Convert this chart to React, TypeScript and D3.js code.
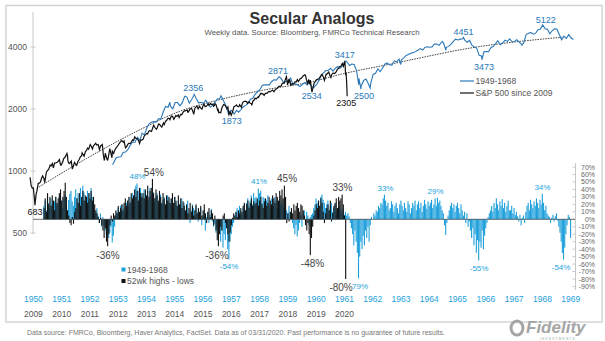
import React from "react";
import * as d3 from "d3";

// ---------------- data ----------------
const analogYears = ["1950","1951","1952","1953","1954","1955","1956","1957","1958","1959","1960","1961","1962","1963","1964","1965","1966","1967","1968","1969"];
const recentYears = ["2009","2010","2011","2012","2013","2014","2015","2016","2017","2018","2019","2020"];
const priceTicks = [500, 1000, 2000, 4000];
const pctTicks = [70, 60, 50, 40, 30, 20, 10, 0, -10, -20, -30, -40, -50, -60, -70, -80, -90];
const lineLegend = ["1949-1968", "S&P 500 since 2009"];
const barLegend = ["1949-1968", "52wk highs - lows"];

// S&P 500 since 2009 (weekly/monthly closes)
const spxSince2009: [string, number][] = [
["2009-01-02",931],["2009-01-16",850],["2009-01-30",826],["2009-02-13",827],["2009-02-27",735],["2009-03-06",683],["2009-03-20",768],["2009-03-31",798],["2009-04-17",870],["2009-04-30",873],["2009-05-15",882],["2009-05-29",919],["2009-06-12",946],["2009-06-30",919],["2009-07-10",879],["2009-07-31",987],["2009-08-14",1005],["2009-08-31",1021],["2009-09-18",1068],["2009-09-30",1057],["2009-10-16",1087],["2009-10-30",1036],["2009-11-13",1093],["2009-11-30",1096],["2009-12-18",1102],["2009-12-31",1115],
["2010-01-15",1136],["2010-01-29",1074],["2010-02-05",1066],["2010-02-26",1104],["2010-03-12",1150],["2010-03-31",1169],["2010-04-23",1217],["2010-04-30",1187],["2010-05-07",1111],["2010-05-21",1087],["2010-05-28",1089],["2010-06-18",1117],["2010-06-30",1031],["2010-07-02",1022],["2010-07-16",1065],["2010-07-30",1102],["2010-08-13",1080],["2010-08-27",1065],["2010-09-10",1110],["2010-09-30",1141],["2010-10-15",1176],["2010-10-29",1183],["2010-11-05",1225],["2010-11-30",1181],["2010-12-17",1244],["2010-12-31",1258],
["2011-01-14",1293],["2011-01-28",1276],["2011-02-18",1343],["2011-02-28",1327],["2011-03-18",1279],["2011-03-31",1326],["2011-04-29",1364],["2011-05-13",1338],["2011-05-31",1345],["2011-06-17",1272],["2011-06-30",1321],["2011-07-22",1345],["2011-07-29",1292],["2011-08-05",1199],["2011-08-19",1124],["2011-08-31",1219],["2011-09-23",1136],["2011-09-30",1131],["2011-10-07",1155],["2011-10-28",1285],["2011-11-25",1159],["2011-11-30",1247],["2011-12-16",1219],["2011-12-30",1258],
["2012-01-13",1289],["2012-01-31",1312],["2012-02-29",1366],["2012-03-30",1408],["2012-04-20",1378],["2012-04-30",1398],["2012-05-18",1295],["2012-05-31",1310],["2012-06-15",1343],["2012-06-29",1362],["2012-07-20",1363],["2012-07-31",1379],["2012-08-17",1418],["2012-08-31",1407],["2012-09-14",1466],["2012-09-28",1441],["2012-10-19",1433],["2012-10-31",1412],["2012-11-16",1359],["2012-11-30",1416],["2012-12-14",1413],["2012-12-31",1426],
["2013-01-18",1485],["2013-01-31",1498],["2013-02-15",1519],["2013-02-28",1515],["2013-03-15",1561],["2013-03-28",1569],["2013-04-19",1555],["2013-04-30",1598],["2013-05-17",1667],["2013-05-31",1631],["2013-06-21",1593],["2013-06-28",1606],["2013-07-19",1692],["2013-07-31",1686],["2013-08-16",1655],["2013-08-30",1633],["2013-09-20",1710],["2013-09-30",1682],["2013-10-18",1745],["2013-10-31",1757],["2013-11-15",1798],["2013-11-29",1806],["2013-12-13",1775],["2013-12-31",1848],
["2014-01-17",1839],["2014-01-31",1783],["2014-02-07",1797],["2014-02-28",1859],["2014-03-14",1841],["2014-03-31",1872],["2014-04-11",1816],["2014-04-30",1884],["2014-05-16",1878],["2014-05-30",1924],["2014-06-20",1963],["2014-06-30",1960],["2014-07-25",1978],["2014-07-31",1931],["2014-08-08",1931],["2014-08-29",2003],["2014-09-19",2010],["2014-09-30",1972],["2014-10-17",1886],["2014-10-31",2018],["2014-11-28",2068],["2014-12-12",2002],["2014-12-31",2059],
["2015-01-16",2019],["2015-01-30",1995],["2015-02-20",2110],["2015-02-27",2105],["2015-03-13",2053],["2015-03-31",2068],["2015-04-24",2117],["2015-04-30",2086],["2015-05-22",2126],["2015-05-29",2107],["2015-06-19",2110],["2015-06-30",2063],["2015-07-10",2077],["2015-07-17",2127],["2015-07-31",2104],["2015-08-21",1971],["2015-08-28",1989],["2015-09-04",1921],["2015-09-25",1932],["2015-09-30",1920],["2015-10-16",2033],["2015-10-30",2079],["2015-11-06",2100],["2015-11-30",2080],["2015-12-18",2006],["2015-12-31",2044],
["2016-01-15",1880],["2016-01-29",1940],["2016-02-12",1865],["2016-02-29",1932],["2016-03-18",2050],["2016-03-31",2060],["2016-04-22",2092],["2016-04-29",2065],["2016-05-20",2052],["2016-05-31",2097],["2016-06-24",2037],["2016-06-30",2099],["2016-07-15",2162],["2016-07-29",2174],["2016-08-12",2184],["2016-08-31",2171],["2016-09-09",2128],["2016-09-30",2168],["2016-10-14",2133],["2016-10-31",2126],["2016-11-04",2085],["2016-11-18",2182],["2016-11-30",2199],["2016-12-16",2258],["2016-12-30",2239],
["2017-01-27",2295],["2017-01-31",2279],["2017-02-24",2367],["2017-02-28",2364],["2017-03-03",2383],["2017-03-31",2363],["2017-04-13",2329],["2017-04-28",2384],["2017-05-19",2382],["2017-05-31",2412],["2017-06-16",2433],["2017-06-30",2423],["2017-07-28",2472],["2017-07-31",2470],["2017-08-18",2426],["2017-08-31",2472],["2017-09-15",2500],["2017-09-29",2519],["2017-10-20",2575],["2017-10-31",2575],["2017-11-17",2579],["2017-11-30",2648],["2017-12-15",2676],["2017-12-29",2674],
["2018-01-12",2786],["2018-01-26",2873],["2018-02-09",2620],["2018-02-23",2747],["2018-02-28",2714],["2018-03-09",2786],["2018-03-23",2588],["2018-03-29",2641],["2018-04-13",2656],["2018-04-30",2648],["2018-05-18",2713],["2018-05-31",2705],["2018-06-15",2780],["2018-06-29",2718],["2018-07-20",2802],["2018-07-31",2816],["2018-08-17",2850],["2018-08-31",2902],["2018-09-21",2930],["2018-09-28",2914],["2018-10-12",2767],["2018-10-26",2659],["2018-11-09",2781],["2018-11-23",2633],["2018-11-30",2760],["2018-12-07",2633],["2018-12-21",2417],["2018-12-31",2507],
["2019-01-18",2671],["2019-01-31",2704],["2019-02-15",2776],["2019-02-28",2784],["2019-03-22",2801],["2019-03-29",2834],["2019-04-26",2940],["2019-04-30",2946],["2019-05-17",2860],["2019-05-31",2752],["2019-06-21",2950],["2019-06-28",2942],["2019-07-26",3026],["2019-07-31",2980],["2019-08-09",2919],["2019-08-23",2847],["2019-08-30",2926],["2019-09-20",2992],["2019-09-30",2977],["2019-10-11",2970],["2019-10-31",3038],["2019-11-15",3120],["2019-11-29",3141],["2019-12-20",3221],["2019-12-31",3231],
["2020-01-17",3330],["2020-01-31",3226],["2020-02-14",3380],["2020-02-21",3338],["2020-02-28",2954],["2020-03-06",2972],["2020-03-13",2711],["2020-03-20",2305]
];

// 1949-1968 analog, scaled to today's index level
const spxAnalog: [string, number][] = [
["1953-09-14",1073],["1953-09-30",1103],["1953-10-30",1160],["1953-11-30",1170],["1953-12-31",1172],
["1954-01-29",1232],["1954-02-26",1236],["1954-03-31",1273],["1954-04-30",1335],["1954-05-28",1379],["1954-06-30",1380],["1954-07-30",1459],["1954-08-31",1409],["1954-09-30",1527],["1954-10-29",1497],["1954-11-30",1618],["1954-12-31",1700],
["1955-01-31",1731],["1955-02-28",1737],["1955-03-31",1728],["1955-04-29",1794],["1955-05-31",1791],["1955-06-30",1939],["1955-07-29",2056],["1955-08-31",2040],["1955-09-23",2156],["1955-09-30",2063],["1955-10-31",2001],["1955-11-30",2150],["1955-12-30",2149],
["1956-01-31",2070],["1956-02-29",2142],["1956-03-30",2291],["1956-04-06",2308],["1956-04-30",2286],["1956-05-31",2136],["1956-06-29",2219],["1956-07-31",2334],["1956-08-02",2356],["1956-08-31",2245],["1956-09-28",2143],["1956-10-31",2154],["1956-11-30",2130],["1956-12-31",2205],
["1957-01-31",2113],["1957-02-28",2044],["1957-03-29",2084],["1957-04-30",2161],["1957-05-31",2241],["1957-06-28",2238],["1957-07-15",2321],["1957-07-31",2264],["1957-08-30",2137],["1957-09-30",2004],["1957-10-22",1873],["1957-10-31",1940],["1957-11-29",1971],["1957-12-31",1890],
["1958-01-31",1970],["1958-02-28",1930],["1958-03-31",1989],["1958-04-30",2053],["1958-05-29",2083],["1958-06-30",2138],["1958-07-31",2230],["1958-08-29",2256],["1958-09-30",2365],["1958-10-31",2425],["1958-11-28",2480],["1958-12-31",2609],
["1959-01-30",2619],["1959-02-27",2618],["1959-03-31",2620],["1959-04-30",2721],["1959-05-29",2773],["1959-06-30",2763],["1959-07-31",2859],["1959-08-03",2871],["1959-08-31",2816],["1959-09-30",2688],["1959-10-30",2718],["1959-11-30",2754],["1959-12-31",2830],
["1960-01-29",2628],["1960-02-29",2652],["1960-03-31",2615],["1960-04-29",2569],["1960-05-31",2638],["1960-06-30",2689],["1960-07-29",2623],["1960-08-31",2691],["1960-09-30",2560],["1960-10-25",2534],["1960-10-31",2560],["1960-11-30",2624],["1960-12-30",2746],
["1961-01-31",2919],["1961-02-28",2998],["1961-03-30",3074],["1961-04-28",3086],["1961-05-31",3145],["1961-06-30",3054],["1961-07-31",3154],["1961-08-31",3216],["1961-09-29",3153],["1961-10-31",3242],["1961-11-30",3370],["1961-12-12",3417],["1961-12-29",3381],
["1962-01-31",3253],["1962-02-28",3306],["1962-03-30",3286],["1962-04-30",3083],["1962-05-28",2622],["1962-05-31",2818],["1962-06-26",2500],["1962-06-29",2587],["1962-07-31",2751],["1962-08-31",2793],["1962-09-28",2659],["1962-10-23",2527],["1962-10-31",2671],["1962-11-30",2942],["1962-12-31",2981],
["1963-01-31",3128],["1963-02-28",3038],["1963-03-29",3145],["1963-04-30",3298],["1963-05-31",3345],["1963-06-28",3278],["1963-07-31",3266],["1963-08-30",3426],["1963-09-30",3388],["1963-10-31",3497],["1963-11-22",3289],["1963-11-29",3460],["1963-12-31",3545],
["1964-01-31",3640],["1964-02-28",3676],["1964-03-31",3732],["1964-04-30",3755],["1964-05-29",3798],["1964-06-30",3860],["1964-07-31",3930],["1964-08-31",3866],["1964-09-30",3978],["1964-10-30",4010],["1964-11-30",3989],["1964-12-31",4004],
["1965-01-29",4137],["1965-02-26",4131],["1965-03-31",4071],["1965-04-30",4210],["1965-05-14",4254],["1965-05-28",4178],["1965-06-28",3856],["1965-06-30",3975],["1965-07-30",4028],["1965-08-31",4119],["1965-09-30",4251],["1965-10-29",4367],["1965-11-30",4329],["1965-12-31",4367],
["1966-01-31",4389],["1966-02-09",4451],["1966-02-28",4310],["1966-03-31",4216],["1966-04-29",4303],["1966-05-31",4070],["1966-06-30",4004],["1966-07-29",3950],["1966-08-31",3643],["1966-09-30",3617],["1966-10-07",3473],["1966-10-31",3790],["1966-11-30",3801],["1966-12-30",3796],
["1967-01-31",3980],["1967-02-28",4020],["1967-03-31",4150],["1967-04-28",4290],["1967-05-31",4100],["1967-06-30",4180],["1967-07-31",4320],["1967-08-31",4260],["1967-09-29",4380],["1967-10-31",4240],["1967-11-30",4250],["1967-12-29",4340],
["1968-01-31",4220],["1968-02-29",4120],["1968-03-05",4080],["1968-03-29",4200],["1968-04-30",4611],["1968-05-31",4663],["1968-06-28",4705],["1968-07-31",4618],["1968-08-30",4671],["1968-09-30",4851],["1968-10-31",4886],["1968-11-29",5122],["1968-12-31",4907],
["1969-01-31",4867],["1969-02-28",4637],["1969-03-31",4796],["1969-04-30",4899],["1969-05-30",4889],["1969-06-30",4617],["1969-07-31",4339],["1969-08-29",4513],["1969-09-30",4400],["1969-10-31",4595],["1969-11-28",4433],["1969-12-31",4350]
];

// dotted trend (analog year, level)
const trendPoints: [number, number][] = [
[1950.24, 824],[1952.0, 1150],[1953.9, 1590],[1955.3, 1950],[1956.6, 2200],[1958.25, 2470],[1959.9, 2700],[1961.0, 2950],[1962.73, 3300],[1965.8, 4000],[1968.8, 4460]
];

// 52wk highs - lows (%), semi-monthly readings
const blueBarsStart = "1951-04-10";
const blueBreadth: number[] = [
18,25,12,30,22,15,28,20,10,24,30,18,
22,30,35,25,15,28,32,20,12,26,34,38,24,18,30,40,28,35,22,42,30,45,36,25,
30,38,25,35,42,30,20,12,8,15,5,-5,8,-10,3,-8,-15,-20,-12,-25,-18,-10,-31,-22,
-10,5,10,15,8,18,12,20,15,10,22,25,18,30,24,35,28,40,45,48,38,30,42,35,
28,40,35,30,38,25,42,32,28,36,24,30,35,22,28,33,20,26,30,18,25,32,22,28,
20,26,15,30,22,18,25,12,20,28,15,22,10,18,25,8,-5,12,20,15,5,18,10,-3,
8,15,-8,5,12,-15,3,10,-5,6,14,-3,-10,-6,-18,-12,-25,-8,-30,-15,-38,-20,-28,-12,
-40,-54,-30,-20,-10,-5,5,10,15,8,18,12,6,15,20,10,22,28,18,25,32,20,35,28,
30,25,41,35,38,22,30,28,18,25,32,20,15,28,22,18,30,25,15,22,28,20,25,18,
15,20,12,8,18,10,5,-5,-12,-20,-8,-23,-15,-5,5,-10,8,12,-6,10,5,-8,3,6,
8,15,20,28,22,25,18,30,33,26,22,15,20,25,12,18,22,10,15,20,12,8,16,18,
12,8,14,6,10,5,8,4,-5,-12,-20,-35,-15,-30,-45,-79,-50,-30,-40,-22,-35,-15,-25,-10,
-30,-8,3,0,8,5,12,10,18,15,22,20,28,33,25,18,22,12,15,24,20,10,18,22,
15,8,20,25,18,12,22,15,10,24,20,8,15,22,18,25,12,20,24,15,22,10,18,26,
20,14,24,18,22,26,15,20,28,18,29,22,25,18,12,8,-8,-21,-5,5,12,18,22,15,
20,10,18,22,15,8,20,12,5,10,-5,8,-10,-3,-15,-25,-12,-35,-20,-45,-28,-55,-30,-38,
-15,-40,-22,-12,-5,3,8,12,18,10,22,15,28,20,12,24,18,27,15,22,10,18,25,12,
12,18,8,15,6,10,4,-3,6,-8,2,5,-5,10,18,22,12,26,20,15,24,18,28,22,
15,26,20,34,22,12,18,8,5,3,-5,2,6,-3,4,8,-2,-10,-18,-30,-45,-54,-38,-20,
-8,6,3,-25
];
const blackBarsStart = "2009-07-01";
const blackBreadth: number[] = [
15,28,10,35,20,30,18,32,25,12,30,22,
28,35,40,25,30,38,49,30,12,5,-5,-8,3,-6,10,15,28,22,35,18,30,38,25,32,
30,22,35,28,38,25,30,20,12,8,3,-5,2,-8,-15,-25,-12,-30,-36,-20,-8,5,-3,8,
5,12,8,18,10,15,20,12,22,28,18,25,30,22,35,28,32,40,30,38,25,42,35,30,
35,28,40,32,45,30,38,42,54,35,28,40,32,25,38,30,22,35,28,20,32,25,30,22,
28,35,22,30,25,18,32,20,28,15,24,18,12,20,8,15,22,10,18,5,12,20,8,15,
10,18,5,12,20,8,-5,10,15,3,12,8,-8,5,-15,-28,-36,-20,-10,-15,5,8,-5,-12,
-20,-30,-18,-8,2,8,5,10,3,12,8,15,10,18,22,12,20,25,15,22,28,18,24,20,
22,28,18,25,30,20,15,24,28,18,22,30,25,20,32,28,22,35,30,25,38,32,40,28,
45,30,-5,8,-3,10,15,8,20,12,18,22,15,10,20,18,12,5,-8,-15,-5,-20,-48,-25,
-10,5,12,20,15,25,18,28,22,10,-5,8,15,20,12,25,-3,8,18,22,28,15,30,25,
28,33,20,5,-80
];

// annotations
const priceNotes = [
  { text: "683", series: "black", date: "2009-03-06", value: 683, dx: 0, dy: 7 },
  { text: "2356", series: "blue", date: "1956-08-02", value: 2356, dx: -1, dy: -6 },
  { text: "1873", series: "blue", date: "1957-10-22", value: 1873, dx: 3, dy: 6 },
  { text: "2871", series: "blue", date: "1959-08-03", value: 2871, dx: -1, dy: -6 },
  { text: "2534", series: "blue", date: "1960-10-25", value: 2534, dx: -2, dy: 8 },
  { text: "3417", series: "blue", date: "1961-12-12", value: 3417, dx: -1, dy: -6 },
  { text: "2305", series: "black", date: "2020-03-20", value: 2305, dx: -1, dy: 7 },
  { text: "2500", series: "blue", date: "1962-06-26", value: 2500, dx: 3, dy: 7 },
  { text: "4451", series: "blue", date: "1966-02-09", value: 4451, dx: 0, dy: -5 },
  { text: "3473", series: "blue", date: "1966-10-07", value: 3473, dx: 2, dy: 7 },
  { text: "5122", series: "blue", date: "1968-11-29", value: 5122, dx: 3, dy: -5 },
];
const breadthNotes = [
  { text: "48%", series: "blue", t: 1953.8, v: 48, dy: -7 },
  { text: "54%", series: "black", t: 1954.38, v: 54, dy: -6.5 },
  { text: "-36%", series: "black", t: 1952.76, v: -36, dy: 9 },
  { text: "-36%", series: "black", t: 1956.61, v: -36, dy: 9 },
  { text: "-54%", series: "blue", t: 1957.04, v: -54, dy: 7 },
  { text: "41%", series: "blue", t: 1958.1, v: 41, dy: -7 },
  { text: "45%", series: "black", t: 1959.09, v: 45, dy: -7.5 },
  { text: "-48%", series: "black", t: 1959.99, v: -48, dy: 8.5 },
  { text: "33%", series: "black", t: 1961.05, v: 33, dy: -7 },
  { text: "-80%", series: "black", t: 1961.0, v: -80, dy: 8 },
  { text: "79%", series: "blue", t: 1961.67, v: -79, dy: 8 },
  { text: "33%", series: "blue", t: 1962.57, v: 33, dy: -6.5 },
  { text: "29%", series: "blue", t: 1964.34, v: 29, dy: -6 },
  { text: "-55%", series: "blue", t: 1965.88, v: -55, dy: 8 },
  { text: "34%", series: "blue", t: 1968.12, v: 34, dy: -6 },
  { text: "-54%", series: "blue", t: 1968.78, v: -54, dy: 7.7 },
];

const titleText = "Secular Analogs";
const subtitleText = "Weekly data.  Source: Bloomberg, FMRCo Technical Research";
const footerText = "Data source: FMRCo, Bloomberg, Haver Analytics, FactSet.  Data as of 03/31/2020. Past performance is no guarantee of future results.";

// ---------------- helpers ----------------
const FONT = "'Liberation Sans', Arial, Helvetica, sans-serif";
const BLUE_LINE = "#2a78b8";
const BLUE_BAR = "#1d9fdb";
const BLUE_TEXT = "#1d9fdb";
const DARK = "#444";
const BLACK_SHIFT = 59; // 2009 drawn over 1950
const BLUE_SHIFT = 0.78; // analog lead

const parse = d3.timeParse("%Y-%m-%d");
function decYear(s: string): number {
  const d = parse(s) as Date;
  const y = d.getFullYear();
  const a = new Date(y, 0, 1).getTime();
  const b = new Date(y + 1, 0, 1).getTime();
  return y + (d.getTime() - a) / (b - a);
}
const shiftOf = (series: string) => (series === "black" ? BLACK_SHIFT : BLUE_SHIFT);

export default function App() {
  const x = d3.scaleLinear().domain([1950, 1969.3]).range([30, 575.8]);
  const yP = d3.scaleLog().domain([500, 4000]).range([233, 47]);
  const yB = d3.scaleLinear().domain([-90, 70]).range([286.5, 167]);

  const line = (series: string) =>
    d3.line<[string, number]>()
      .x((d) => x(decYear(d[0]) - shiftOf(series)))
      .y((d) => yP(d[1]));

  const trendLine = d3.line<[number, number]>()
    .x((d) => x(d[0]))
    .y((d) => yP(d[1]))
    .curve(d3.curveMonotoneX);

  const bars = (start: string, vals: number[], series: string) => {
    const t0 = decYear(start) - shiftOf(series);
    return vals.map((v, i) => {
      const t = t0 + i / 24;
      const y0 = yB(0);
      const y1 = yB(v);
      return { x: x(t), y: Math.min(y0, y1), h: Math.abs(y1 - y0) };
    });
  };
  const blueBars = bars(blueBarsStart, blueBreadth, "blue");
  const blackBars = bars(blackBarsStart, blackBreadth, "black");

  return (
    <svg width={605} height={341} style={{ position: "absolute", left: 0, top: 0, background: "#fff" }} fontFamily={FONT}>
      <rect x={0} y={0} width={605} height={341} fill="#fff" />
      <rect x={6} y={5.5} width={596} height={316.5} fill="none" stroke="#d4d4d4" strokeWidth={1.5} />

      <text x={312} y={18.5} textAnchor="middle" dominantBaseline="central" fontSize={16} fontWeight="bold" fill="#333">{titleText}</text>
      <text x={312} y={32.5} textAnchor="middle" dominantBaseline="central" fontSize={7.8} fill="#555">{subtitleText}</text>

      {/* left price axis */}
      <line x1={33} x2={33} y1={12} y2={234} stroke="#c8c8c8" strokeWidth={1} />
      {priceTicks.map((t) => (
        <g key={"pt" + t}>
          <line x1={30.5} x2={35.5} y1={yP(t)} y2={yP(t)} stroke="#c8c8c8" />
          <text x={27} y={yP(t)} textAnchor="end" dominantBaseline="central" fontSize={8.5} fill="#555">{t}</text>
        </g>
      ))}

      {/* right pct axis */}
      <line x1={575.5} x2={575.5} y1={163} y2={290} stroke="#c8c8c8" strokeWidth={1} />
      {pctTicks.map((t) => (
        <g key={"bt" + t}>
          <line x1={572.5} x2={575.5} y1={yB(t)} y2={yB(t)} stroke="#c8c8c8" />
          <text x={595} y={yB(t)} textAnchor="end" dominantBaseline="central" fontSize={7} fill="#666">{t + "%"}</text>
        </g>
      ))}

      {/* breadth bars */}
      {blueBars.map((b, i) => (
        <rect key={"bb" + i} x={b.x - 0.55} y={b.y} width={1.1} height={b.h} fill={BLUE_BAR} />
      ))}
      {blackBars.map((b, i) => (
        <rect key={"kb" + i} x={b.x - 0.55} y={b.y} width={1.1} height={b.h} fill="#111" />
      ))}
      <line x1={33} x2={575} y1={yB(0)} y2={yB(0)} stroke="#333" strokeWidth={0.7} />

      {/* price lines */}
      <path d={trendLine(trendPoints) || ""} fill="none" stroke="#333" strokeWidth={0.9} strokeDasharray="1.6,1" />
      <path d={line("blue")(spxAnalog) || ""} fill="none" stroke={BLUE_LINE} strokeWidth={1.1} />
      <path d={line("black")(spxSince2009) || ""} fill="none" stroke="#111" strokeWidth={1.2} />

      {priceNotes.map((n, i) => {
        const px = x(decYear(n.date) - shiftOf(n.series)) + n.dx;
        const py = yP(n.value) + n.dy;
        return (
          <text key={"pn" + i} x={px} y={py} textAnchor="middle" dominantBaseline="central" fontSize={9}
            fill={n.series === "black" ? "#111" : BLUE_LINE}>{n.text}</text>
        );
      })}

      {breadthNotes.map((n, i) => (
        <text key={"bn" + i} x={x(n.t)} y={yB(n.v) + n.dy} textAnchor="middle" dominantBaseline="central"
          fontSize={n.series === "black" ? 10 : 8} fill={n.series === "black" ? DARK : BLUE_TEXT}>{n.text}</text>
      ))}

      {/* line legend */}
      <line x1={460} x2={474} y1={81} y2={81} stroke={BLUE_LINE} strokeWidth={1.2} />
      <text x={475.5} y={81} dominantBaseline="central" fontSize={8.5} fill="#555">{lineLegend[0]}</text>
      <line x1={460} x2={474} y1={93} y2={93} stroke="#111" strokeWidth={1.2} />
      <text x={475.5} y={93} dominantBaseline="central" fontSize={8.5} fill="#555">{lineLegend[1]}</text>

      {/* bar legend */}
      <rect x={121.5} y={267.5} width={4} height={4} fill={BLUE_BAR} />
      <text x={127} y={269.5} dominantBaseline="central" fontSize={8.5} fill="#555">{barLegend[0]}</text>
      <rect x={121.5} y={279} width={4} height={4} fill="#111" />
      <text x={127} y={281} dominantBaseline="central" fontSize={8.5} fill="#555">{barLegend[1]}</text>

      {/* year rows */}
      {analogYears.map((yr, i) => (
        <text key={"ay" + yr} x={x(1950 + i + 0.12)} y={298.5} textAnchor="middle" dominantBaseline="central" fontSize={8.5} fill={BLUE_TEXT}>{yr}</text>
      ))}
      {recentYears.map((yr, i) => (
        <text key={"ry" + yr} x={x(1950 + i + 0.12)} y={314} textAnchor="middle" dominantBaseline="central" fontSize={8.5} fill="#555">{yr}</text>
      ))}

      <text x={27} y={332} dominantBaseline="central" fontSize={7} fill="#777">{footerText}</text>

      {/* logo */}
      <g>
        <ellipse cx={517} cy={328} rx={6} ry={7} fill="none" stroke="#a5a5a5" strokeWidth={3} />
        <text x={526} y={333} fontSize={17} fontWeight="bold" fontStyle="italic" fill="#a5a5a5">Fidelity</text>
        <text x={540} y={339.8} fontSize={3.2} fill="#a5a5a5" letterSpacing={1.2}>INVESTMENTS</text>
      </g>
    </svg>
  );
}
